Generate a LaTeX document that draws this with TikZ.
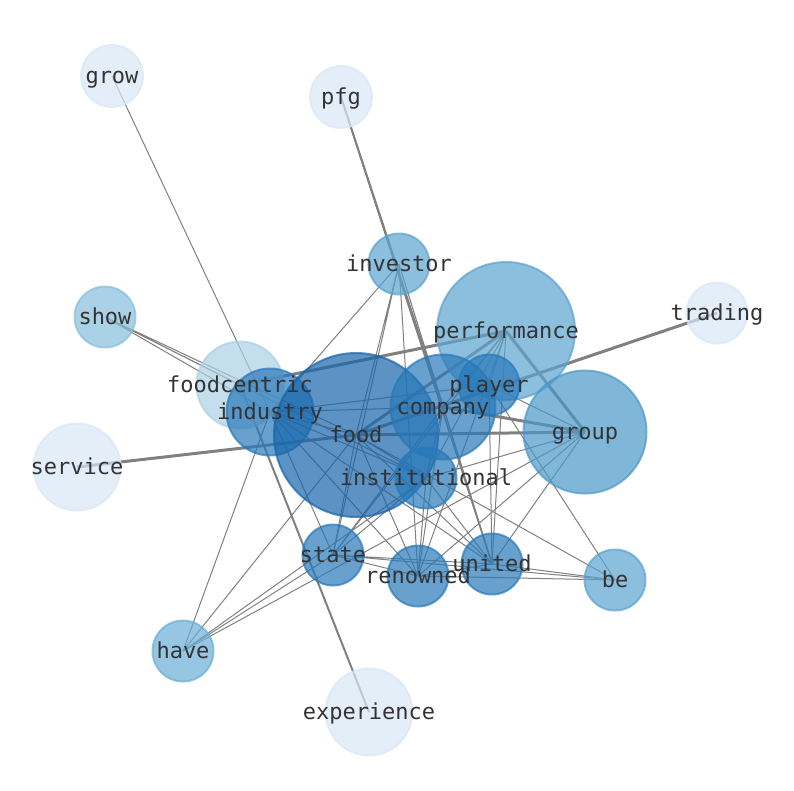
\documentclass[tikz,border=0pt]{standalone}
\usepackage{fontspec}
\newfontfamily\wordfont{DejaVu Sans Mono}

\definecolor{pale}{HTML}{D8E7F5}
\definecolor{soft}{HTML}{ABD0E6}
\definecolor{light}{HTML}{88BEDC}
\definecolor{midb}{HTML}{6AAED6}
\definecolor{medb}{HTML}{5BA3D0}
\definecolor{grpb}{HTML}{4A98C9}
\definecolor{deep}{HTML}{2879B9}
\definecolor{dark}{HTML}{1764AB}
\definecolor{wordcol}{HTML}{333333}
\definecolor{linkcol}{HTML}{808080}

\begin{document}
\begin{tikzpicture}[x=1pt,y=-1pt,
    bubble/.style={circle, inner sep=0pt, line width=2pt, fill opacity=0.7, draw opacity=0.7},
    word/.style={font=\wordfont\fontsize{22}{22}\selectfont, text=wordcol, inner sep=0pt,
        text height=16pt, text depth=1pt},
    link/.style={linkcol, line width=1pt},
    midlink/.style={linkcol, line width=2pt},
    heavylink/.style={linkcol, line width=3pt}]

    \useasboundingbox (0,0) rectangle (794,790);

    %positions of the words
    \coordinate (grow) at (112,76);
    \coordinate (pfg) at (341,97);
    \coordinate (investor) at (399,264);
    \coordinate (show) at (105,317);
    \coordinate (performance) at (506,331);
    \coordinate (trading) at (717,313);
    \coordinate (foodcentric) at (240,385);
    \coordinate (industry) at (270,412);
    \coordinate (food) at (356,435);
    \coordinate (company) at (443,407);
    \coordinate (player) at (489,385);
    \coordinate (group) at (585,432);
    \coordinate (service) at (77,467);
    \coordinate (institutional) at (426,478);
    \coordinate (state) at (333,555);
    \coordinate (renowned) at (418,576);
    \coordinate (united) at (492,564);
    \coordinate (be) at (615,580);
    \coordinate (have) at (183,651);
    \coordinate (experience) at (369,712);

    %heavy links
    \draw[heavylink] (food) -- (performance) (food) -- (group) (performance) -- (group)
        (company) -- (group) (foodcentric) -- (performance) (service) -- (food) (trading) -- (food);
    \draw[midlink] (pfg) -- (company) (experience) -- (foodcentric);
    \draw[link, line width=1.5pt] (pfg) -- (united);

    %thin links
    \draw[link] (grow) -- (industry);
    \draw[link] (show) -- (foodcentric) (show) -- (industry) (show) -- (food) (show) -- (institutional);
    \draw[link] (investor) -- (industry) (investor) -- (food) (investor) -- (state)
        (investor) -- (renowned) (investor) -- (united) (investor) -- (company);
    \draw[link] (performance) -- (player) (performance) -- (company) (performance) -- (institutional)
        (performance) -- (renowned) (performance) -- (united) (performance) -- (state);
    \draw[link] (industry) -- (food) (industry) -- (company) (industry) -- (player)
        (industry) -- (institutional) (industry) -- (state) (industry) -- (renowned)
        (industry) -- (united) (industry) -- (have);
    \draw[link] (food) -- (institutional) (food) -- (state) (food) -- (renowned)
        (food) -- (united) (food) -- (be) (food) -- (have);
    \draw[link] (company) -- (player) (company) -- (institutional) (company) -- (state)
        (company) -- (renowned) (company) -- (united);
    \draw[link] (player) -- (united) (player) -- (be) (player) -- (group);
    \draw[link] (group) -- (renowned) (group) -- (united) (group) -- (institutional) (group) -- (have);
    \draw[link] (institutional) -- (state) (institutional) -- (renowned)
        (institutional) -- (united) (institutional) -- (have);
    \draw[link] (state) -- (renowned) (state) -- (united) (state) -- (be) (state) -- (have);
    \draw[link] (renowned) -- (united) (renowned) -- (be) (united) -- (be);

    %the bubbles
    \node[bubble, fill=pale, draw=pale, minimum size=62pt] (grow-b) at (grow) {};
    \node[bubble, fill=pale, draw=pale, minimum size=62pt] (pfg-b) at (pfg) {};
    \node[bubble, fill=medb, draw=medb, minimum size=61pt] (investor-b) at (investor) {};
    \node[bubble, fill=light, draw=light, minimum size=61pt] (show-b) at (show) {};
    \node[bubble, fill=medb, draw=medb, minimum size=138pt] (performance-b) at (performance) {};
    \node[bubble, fill=pale, draw=pale, minimum size=61pt] (trading-b) at (trading) {};
    \node[bubble, fill=soft, draw=soft, minimum size=87pt] (foodcentric-b) at (foodcentric) {};
    \node[bubble, fill=deep, draw=deep, minimum size=87pt] (industry-b) at (industry) {};
    \node[bubble, fill=dark, draw=dark, minimum size=164pt] (food-b) at (food) {};
    \node[bubble, fill=deep, draw=deep, minimum size=105pt] (company-b) at (company) {};
    \node[bubble, fill=deep, draw=deep, minimum size=61pt] (player-b) at (player) {};
    \node[bubble, fill=grpb, draw=grpb, minimum size=123pt] (group-b) at (group) {};
    \node[bubble, fill=pale, draw=pale, minimum size=87pt] (service-b) at (service) {};
    \node[bubble, fill=deep, draw=deep, minimum size=61pt] (institutional-b) at (institutional) {};
    \node[bubble, fill=deep, draw=deep, minimum size=61pt] (state-b) at (state) {};
    \node[bubble, fill=deep, draw=deep, minimum size=61pt] (renowned-b) at (renowned) {};
    \node[bubble, fill=deep, draw=deep, minimum size=61pt] (united-b) at (united) {};
    \node[bubble, fill=medb, draw=medb, minimum size=61pt] (be-b) at (be) {};
    \node[bubble, fill=midb, draw=midb, minimum size=61pt] (have-b) at (have) {};
    \node[bubble, fill=pale, draw=pale, minimum size=87pt] (experience-b) at (experience) {};

    %the words
    \node[word] (grow-w) at (grow) {grow};
    \node[word] (pfg-w) at (pfg) {pfg};
    \node[word] (investor-w) at (investor) {investor};
    \node[word] (show-w) at (show) {show};
    \node[word] (performance-w) at (performance) {performance};
    \node[word] (trading-w) at (trading) {trading};
    \node[word] (foodcentric-w) at (foodcentric) {foodcentric};
    \node[word] (industry-w) at (industry) {industry};
    \node[word] (food-w) at (food) {food};
    \node[word] (company-w) at (company) {company};
    \node[word] (player-w) at (player) {player};
    \node[word] (group-w) at (group) {group};
    \node[word] (service-w) at (service) {service};
    \node[word] (institutional-w) at (institutional) {institutional};
    \node[word] (state-w) at (state) {state};
    \node[word] (renowned-w) at (renowned) {renowned};
    \node[word] (united-w) at (united) {united};
    \node[word] (be-w) at (be) {be};
    \node[word] (have-w) at (have) {have};
    \node[word] (experience-w) at (experience) {experience};

\end{tikzpicture}
\end{document}
